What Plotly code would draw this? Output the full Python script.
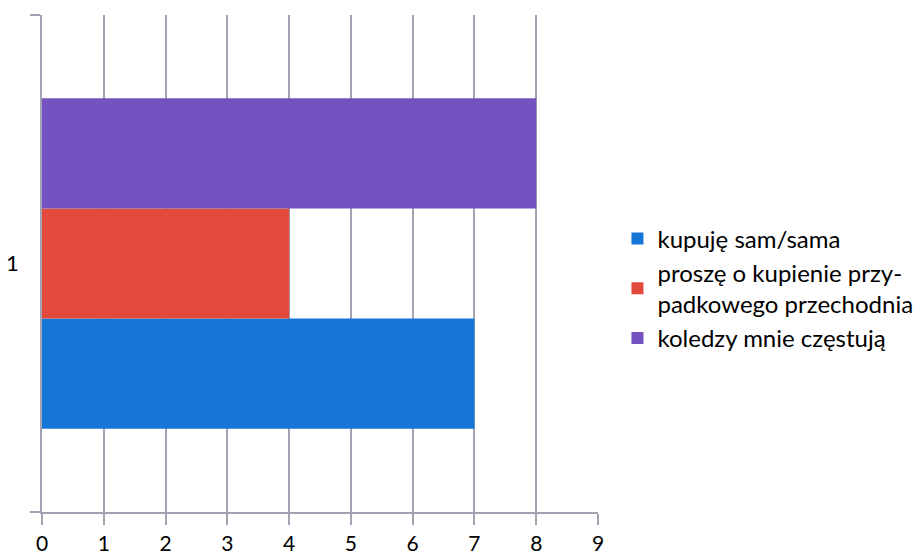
import plotly.graph_objects as go

categories = ["1"]
series_names = ["kupuję sam/sama", "proszę o kupienie przy-<br>padkowego przechodnia", "koledzy mnie częstują"]
series_values = [[7], [4], [8]]
series_colors = ["#1676d8", "#e34a3c", "#7452bf"]
x_ticks = [0, 1, 2, 3, 4, 5, 6, 7, 8, 9]

FONT = "Lato, Open Sans, sans-serif"
GRID = "#a2a3b2"

fig = go.Figure()
for name, vals, col in zip(series_names, series_values, series_colors):
    fig.add_trace(go.Bar(
        y=categories, x=vals, name=name, orientation="h",
        marker=dict(color=col, line=dict(width=0)),
    ))

fig.update_layout(
    width=921, height=556,
    margin=dict(l=42, r=323, t=15, b=44, autoexpand=False),
    paper_bgcolor="white", plot_bgcolor="white",
    barmode="group", bargap=0.335, bargroupgap=0,
    font=dict(family=FONT, size=22, color="black"),
    legend=dict(
        x=1.035, xanchor="left", y=0.45, yanchor="middle",
        font=dict(family=FONT, size=24, color="black"),
        traceorder="normal",
        itemwidth=30, bgcolor="rgba(0,0,0,0)",
    ),
    showlegend=True,
)
fig.update_xaxes(
    range=[0, 9], tickvals=x_ticks, ticktext=[str(t) for t in x_ticks],
    showgrid=True, gridcolor=GRID, gridwidth=1.5,
    showline=True, linecolor=GRID, linewidth=1.5,
    ticks="outside", ticklen=11, tickcolor=GRID, tickwidth=1.5,
    zeroline=False, tickfont=dict(size=21), automargin=False,
    ticklabelstandoff=1,
)
fig.update_yaxes(
    type="category", range=[-0.5, 0.5],
    showgrid=False, showline=True, linecolor=GRID, linewidth=1.5,
    ticks="outside", ticklen=10, tickcolor=GRID, tickwidth=1.5,
    tickson="boundaries", tickfont=dict(size=22), automargin=False,
    ticklabelstandoff=17,
)

fig.write_html(
    "out.html",
    config={"displayModeBar": False},
    post_script="document.body.style.margin='0';document.body.style.overflow='hidden';",
)
